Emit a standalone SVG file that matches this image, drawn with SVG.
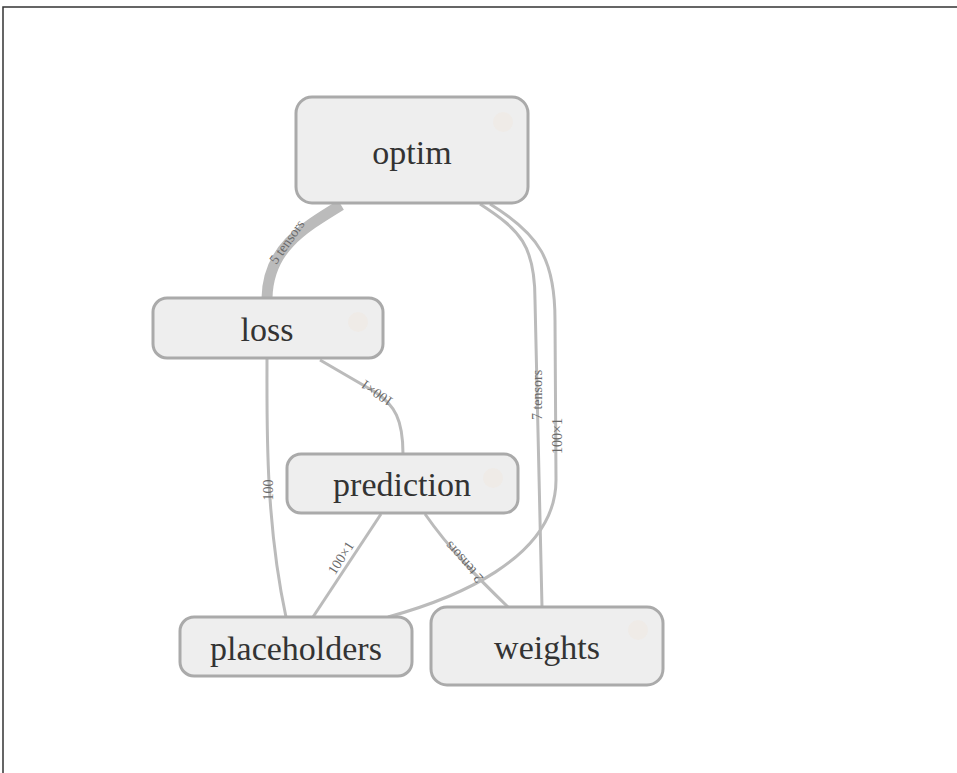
<svg xmlns="http://www.w3.org/2000/svg" width="957" height="773" viewBox="0 0 957 773">
<style>
.node rect{fill:#eeeeee;stroke:#aaaaaa;stroke-width:3}
.node text{font-family:"Liberation Serif",serif;font-size:34px;fill:#333333;text-anchor:middle;dominant-baseline:central}
.node circle{fill:#efebe7;stroke:none}
.edge{fill:none;stroke:#bbbbbb;stroke-width:3}
.lbl{font-family:"Liberation Serif",serif;font-size:14px;fill:#6a6a6a;text-anchor:middle;dominant-baseline:central}
</style>
<rect width="957" height="773" fill="#ffffff"/>
<path d="M3,773 L3,7 L957,7" fill="none" stroke="#333333" stroke-width="1.5"/>
<g id="edges">
<path class="edge" d="M341,205 C300,230 268,250 267,298" style="stroke-width:11"/>
<path class="edge" d="M320,360 L375,392 C395,405 403,420 403,454"/>
<path class="edge" d="M267,359 C267,420 265,520 286,617"/>
<path class="edge" d="M381,514 L313,617"/>
<path class="edge" d="M425,514 C450,550 480,580 508,607"/>
<path class="edge" d="M480,204 C520,230 535,245 535,300 L542,607"/>
<path class="edge" d="M490,204 C540,235 555,260 555,320 L556,480 C556,560 450,600 388,617"/>
<text class="lbl" transform="translate(287,242) rotate(-55)">5 tensors</text>
<text class="lbl" transform="translate(377,393) rotate(215)">100×1</text>
<text class="lbl" transform="translate(268,490) rotate(-90)">100</text>
<text class="lbl" transform="translate(341,558) rotate(-57)">100×1</text>
<text class="lbl" transform="translate(464,562) rotate(228)">2 tensors</text>
<text class="lbl" transform="translate(537,395) rotate(-90)">7 tensors</text>
<text class="lbl" transform="translate(557,436) rotate(-90)">100×1</text>
</g>
<g id="optim" class="node"><rect x="296" y="97" width="232" height="106" rx="16"/><circle cx="503" cy="122" r="10"/><text x="412" y="152">optim</text></g>
<g id="loss" class="node"><rect x="153" y="298" width="230" height="60" rx="14"/><circle cx="358" cy="322" r="10"/><text x="267" y="329">loss</text></g>
<g id="prediction" class="node"><rect x="287" y="454" width="231" height="59" rx="14"/><circle cx="493" cy="478" r="10"/><text x="402" y="484">prediction</text></g>
<g id="placeholders" class="node"><rect x="180" y="617" width="232" height="59" rx="14"/><text x="296" y="648">placeholders</text></g>
<g id="weights" class="node"><rect x="431" y="607" width="232" height="78" rx="16"/><circle cx="638" cy="630" r="10"/><text x="547" y="647">weights</text></g>
</svg>
